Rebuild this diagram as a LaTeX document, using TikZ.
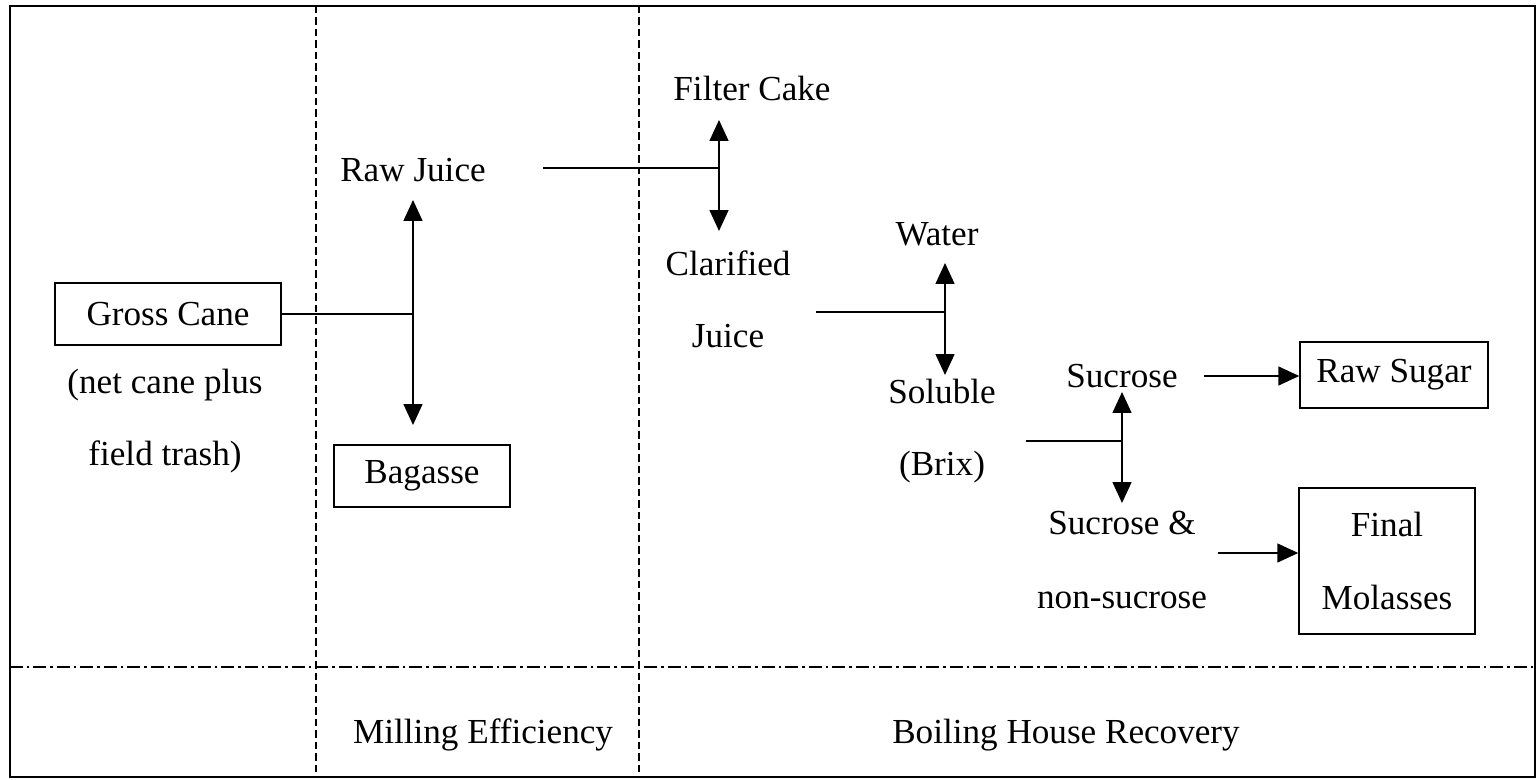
\documentclass[tikz,border=0pt]{standalone}
\usepackage{fontspec}
\setmainfont{Liberation Serif}
\usetikzlibrary{arrows.meta}
\begin{document}
\begin{tikzpicture}[x=0.02cm,y=-0.02cm,
  lbl/.style={font=\fontsize{20}{24}\selectfont, inner sep=0pt, align=center},
  boxed/.style={draw, line width=0.9pt, font=\fontsize{20}{24}\selectfont, inner sep=0pt, align=center},
  conn/.style={line width=0.9pt},
  arr/.style={conn, -{Triangle[length=0.42cm,width=0.38cm]}},
  vdash/.style={line width=0.7pt, dash pattern=on 0.15cm off 0.08cm},
  hdashdot/.style={line width=0.8pt, dash pattern=on 0.26cm off 0.08cm on 0.05cm off 0.08cm}]
\useasboundingbox (0,0) rectangle (1537,780);
% frame
\draw[line width=1pt] (10,6) rectangle (1535,777);
\draw[vdash] (316,6) -- (316,777);
\draw[vdash] (639,6) -- (639,777);
\draw[hdashdot] (10,667) -- (1535,667);

% nodes
\node[boxed, minimum width=4.52cm, minimum height=1.24cm] (gross) at (168,314) {Gross Cane};
\node[lbl, font=\fontsize{20}{41}\selectfont] (netcane) at (165,421) {(net cane plus\\field trash)};
\node[lbl] (rawjuice) at (413,170) {Raw Juice};
\node[boxed, minimum width=3.52cm, minimum height=1.24cm] (bagasse) at (422,476) {Bagasse};
\node[lbl] (filter) at (752,88) {Filter Cake};
\node[lbl, font=\fontsize{20}{41}\selectfont] (clarified) at (728,299) {Clarified\\Juice};
\node[lbl] (water) at (937,234) {Water};
\node[lbl, font=\fontsize{20}{41}\selectfont] (soluble) at (942,431) {Soluble\\(Brix)};
\node[lbl] (sucrose) at (1122,376) {Sucrose};
\node[lbl, font=\fontsize{20}{42}\selectfont] (sucnon) at (1122,560) {Sucrose \&\\non-sucrose};
\node[boxed, minimum width=3.76cm, minimum height=1.32cm] (rawsugar) at (1394,375) {Raw Sugar};
\node[boxed, minimum width=3.52cm, minimum height=2.92cm, font=\fontsize{20}{42}\selectfont] (molasses) at (1387,561) {Final\\Molasses};
\node[lbl] (milling) at (483,735) {Milling Efficiency};
\node[lbl] (boiling) at (1066,735) {Boiling House Recovery};

% junctions and ends
\coordinate (j1) at (413,314);
\coordinate (t1u) at (413,200);
\coordinate (t1d) at (413,425);
\coordinate (s2) at (543,168);
\coordinate (j2) at (719,168);
\coordinate (t2u) at (719,120);
\coordinate (t2d) at (719,231);
\coordinate (s3) at (816,312);
\coordinate (j3) at (945,312);
\coordinate (t3u) at (945,263);
\coordinate (t3d) at (945,375);
\coordinate (s4) at (1026,441);
\coordinate (j4) at (1122,441);
\coordinate (t4u) at (1122,392);
\coordinate (t4d) at (1122,503);
\coordinate (s5) at (1204,376);
\coordinate (s6) at (1218,553);

% connectors
\draw[conn] (gross.east) -- (j1);
\draw[arr] (j1) -- (t1u);
\draw[arr] (j1) -- (t1d);
\draw[conn] (s2) -- (j2);
\draw[arr] (j2) -- (t2u);
\draw[arr] (j2) -- (t2d);
\draw[conn] (s3) -- (j3);
\draw[arr] (j3) -- (t3u);
\draw[arr] (j3) -- (t3d);
\draw[conn] (s4) -- (j4);
\draw[arr] (j4) -- (t4u);
\draw[arr] (j4) -- (t4d);
\draw[arr] (s5) -- (s5 -| rawsugar.west);
\draw[arr] (s6) -- (s6 -| molasses.west);
\end{tikzpicture}
\end{document}
